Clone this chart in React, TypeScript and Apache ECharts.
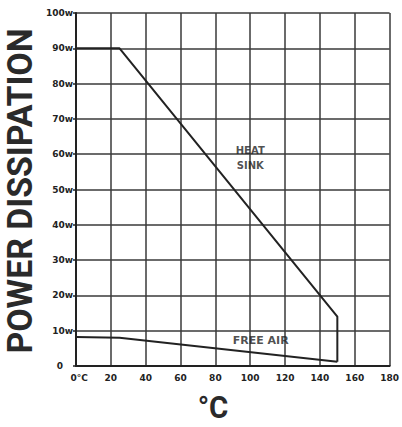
import React, { useEffect, useRef } from "react";
import * as echarts from "echarts";

const xTicks = [0, 20, 40, 60, 80, 100, 120, 140, 160, 180];
const yTicks = [0, 10, 20, 30, 40, 50, 60, 70, 80, 90, 100];
const heatSink: [number, number][] = [
  [0, 90],
  [25, 90],
  [150, 14],
  [150, 1.2],
];
const freeAir: [number, number][] = [
  [0, 8.2],
  [25, 8.0],
  [150, 1.2],
];
const heatSinkLabel: [number, number] = [100, 59];
const freeAirLabel: [number, number] = [106, 7.2];
const yTitle = "POWER DISSIPATION";
const xTitle = "°C";

const INK = "#222";
const GRIDC = "#3a3a3a";

export default function App() {
  const ref = useRef<HTMLDivElement>(null);
  useEffect(() => {
    document.body.style.margin = "0";
    document.body.style.overflow = "hidden";
    if (!ref.current) return;
    const chart = echarts.init(ref.current, null, { renderer: "svg" });
    chart.setOption({
      animation: false,
      backgroundColor: "#fff",
      grid: { left: 76, right: 9, top: 13, bottom: 61, containLabel: false },
      xAxis: {
        type: "value",
        min: xTicks[0],
        max: xTicks[xTicks.length - 1],
        interval: 20,
        axisLine: { show: true, lineStyle: { color: INK, width: 2 } },
        axisTick: { show: false },
        splitLine: { show: true, lineStyle: { color: GRIDC, width: 1.5 } },
        axisLabel: {
          margin: 7,
          color: INK,
          fontFamily: "DejaVu Sans",
          fontWeight: "bold",
          fontSize: 9,
          formatter: (v: number) => (v === 0 ? "  0°C" : String(v)),
        },
      },
      yAxis: {
        type: "value",
        min: yTicks[0],
        max: yTicks[yTicks.length - 1],
        interval: 10,
        axisLine: { show: true, lineStyle: { color: INK, width: 2 } },
        axisTick: { show: true, length: 3, lineStyle: { color: INK, width: 1.5 } },
        splitLine: { show: true, lineStyle: { color: GRIDC, width: 1.5 } },
        axisLabel: {
          margin: 3,
          color: INK,
          fontFamily: "DejaVu Sans",
          fontWeight: "bold",
          fontSize: 9,
          formatter: (v: number) => (v === 0 ? "{z|0}" : v + "w"),
          rich: {
            z: {
              padding: [0, 10, 0, 0],
              fontFamily: "DejaVu Sans",
              fontWeight: "bold",
              fontSize: 9,
              color: INK,
            },
          },
        },
      },
      graphic: [
        {
          type: "text",
          x: 20,
          y: 191,
          rotation: Math.PI / 2,
          scaleX: 0.94,
          style: {
            text: yTitle,
            align: "center",
            verticalAlign: "middle",
            fill: "#2a2a2a",
            fontFamily: "Roboto",
            fontWeight: "bold",
            fontSize: 36,
          },
        },
        {
          type: "text",
          x: 213,
          y: 407,
          scaleX: 0.92,
          style: {
            text: xTitle,
            align: "center",
            verticalAlign: "middle",
            fill: "#2a2a2a",
            fontFamily: "Roboto",
            fontWeight: "bold",
            fontSize: 32,
          },
        },
      ],
      series: [
        {
          type: "line",
          data: heatSink,
          symbol: "none",
          lineStyle: { color: INK, width: 2 },
          z: 5,
        },
        {
          type: "line",
          data: freeAir,
          symbol: "none",
          lineStyle: { color: INK, width: 2 },
          z: 5,
        },
        {
          type: "scatter",
          data: [heatSinkLabel],
          symbolSize: 0,
          label: {
            show: true,
            position: "inside",
            formatter: "HEAT\nSINK",
            color: INK,
            fontFamily: "DejaVu Sans",
            fontWeight: "bold",
            fontSize: 10,
            lineHeight: 15,
          },
          z: 6,
        },
        {
          type: "scatter",
          data: [freeAirLabel],
          symbolSize: 0,
          label: {
            show: true,
            position: "inside",
            formatter: "FREE AIR",
            color: INK,
            fontFamily: "DejaVu Sans",
            fontWeight: "bold",
            fontSize: 11,
          },
          z: 6,
        },
      ],
    });
    return () => chart.dispose();
  }, []);
  return <div ref={ref} style={{ width: 402, height: 427 }} />;
}
